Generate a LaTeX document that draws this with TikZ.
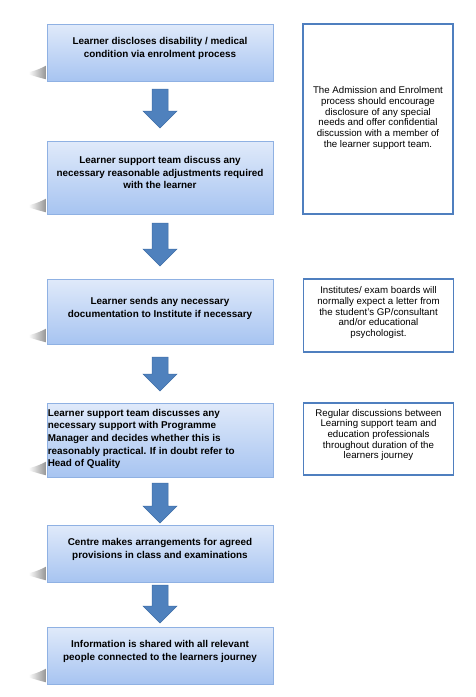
\documentclass[tikz,border=0pt]{standalone}
\usepackage{fontspec}
\setmainfont{Liberation Sans}
\usetikzlibrary{calc}
\definecolor{boxtop}{HTML}{E0EAFA}
\definecolor{boxbot}{HTML}{A7C4F1}
\definecolor{boxborder}{HTML}{8FB1E3}
\definecolor{arrowblue}{HTML}{4F81BD}
\definecolor{arrowedge}{HTML}{3F6EA8}
\definecolor{noteborder}{HTML}{4F7FBF}
\definecolor{shadowgray}{HTML}{909090}
\newcommand\fatarrow[2]{%
  \path let \p1=(#1), \p2=(#2) in
    [fill=arrowblue, draw=arrowedge, line width=0.5pt, line join=miter]
    (\x1-8pt,\y1) -- (\x1+8pt,\y1) -- (\x1+8pt,\y2+17pt) -- (\x1+17pt,\y2+17pt)
    -- (\x2,\y2) -- (\x1-17pt,\y2+17pt) -- (\x1-8pt,\y2+17pt) -- cycle;}
\newcommand\boxshadow[1]{%
  \shade[left color=white, right color=shadowgray]
    let \p1=(#1.south west) in
    (\x1,\y1+16pt) .. controls (\x1-8pt,\y1+12pt) .. (\x1-18pt,\y1+9pt) -- (\x1-18pt,\y1+7pt)
    .. controls (\x1-8pt,\y1+4pt) .. (\x1,\y1+2pt) -- cycle;}
\begin{document}
\begin{tikzpicture}[x=1pt,y=-1pt,
  stepbox/.style={draw=boxborder, line width=0.8pt, top color=boxtop, bottom color=boxbot,
    rectangle, inner sep=0pt, minimum width=226pt},
  steptext/.style={font=\bfseries\fontsize{9.9}{12.6}\selectfont, align=center, inner sep=0pt},
  notebox/.style={draw=noteborder, line width=1.4pt, fill=white, rectangle, inner sep=0pt,
    minimum width=150pt},
  notetext/.style={font=\fontsize{9.7}{10.7}\selectfont, align=center, inner sep=0pt}]
\useasboundingbox (0,0) rectangle (476,697);
\fill[white] (0,0) rectangle (476,697);

% step boxes
\node[stepbox, minimum height=57pt] (b1) at (160,52.5) {};
\node[stepbox, minimum height=73pt] (b2) at (160,177.5) {};
\node[stepbox, minimum height=65pt] (b3) at (160,311.5) {};
\node[stepbox, minimum height=74pt] (b4) at (160,440) {};
\node[stepbox, minimum height=57pt] (b5) at (160,553.5) {};
\node[stepbox, minimum height=57pt] (b6) at (160,655.5) {};

\foreach \b in {b1,b2,b3,b4,b5,b6} {\boxshadow{\b}}

\node[steptext] (t1) at ([yshift=4pt]b1.center) {Learner discloses disability / medical\\condition via enrolment process};
\node[steptext] (t2) at ([yshift=5pt]b2.center) {Learner support team discuss any\\necessary reasonable adjustments required\\with the learner};
\node[steptext] (t3) at ([yshift=3pt]b3.center) {Learner sends any necessary\\documentation to Institute if necessary};
\node[steptext, align=left, anchor=west] (t4) at ([xshift=1pt,yshift=1pt]b4.west) {Learner support team discusses any\\necessary support with Programme\\Manager and decides whether this is\\reasonably practical. If in doubt refer to\\Head of Quality};
\node[steptext] (t5) at ([yshift=4pt]b5.center) {Centre makes arrangements for agreed\\provisions in class and examinations};
\node[steptext] (t6) at ([yshift=4pt]b6.center) {Information is shared with all relevant\\people connected to the learners journey};

% note boxes
\node[notebox, minimum height=190pt] (n1) at (378,119) {};
\node[notebox, minimum height=73pt] (n2) at (378.5,315.5) {};
\node[notebox, minimum height=72pt] (n3) at (378.5,439) {};
\node[notetext] (m1) at ([yshift=1pt]n1.center) {The Admission and Enrolment\\process should encourage\\disclosure of any special\\needs and offer confidential\\discussion with a member of\\the learner support team.};
\node[notetext] (m2) at ([yshift=3pt]n2.center) {Institutes/ exam boards will\\normally expect a letter from\\the student’s GP/consultant\\and/or educational\\psychologist.};
\node[notetext] (m3) at ([yshift=4pt]n3.center) {Regular discussions between\\Learning support team and\\education professionals\\throughout duration of the\\learners journey};

% arrows
\coordinate (a1s) at (160,89);  \coordinate (a1e) at (160,128);
\coordinate (a2s) at (160,223); \coordinate (a2e) at (160,266);
\coordinate (a3s) at (160,357); \coordinate (a3e) at (160,391);
\coordinate (a4s) at (160,483); \coordinate (a4e) at (160,523);
\coordinate (a5s) at (160,585); \coordinate (a5e) at (160,623);
\fatarrow{a1s}{a1e}
\fatarrow{a2s}{a2e}
\fatarrow{a3s}{a3e}
\fatarrow{a4s}{a4e}
\fatarrow{a5s}{a5e}
\end{tikzpicture}
\end{document}
